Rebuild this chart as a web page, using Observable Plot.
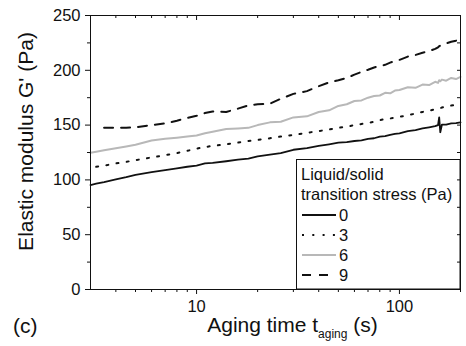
<!DOCTYPE html>
<html>
<head>
<meta charset="utf-8">
<script src="https://cdn.jsdelivr.net/npm/d3@7"></script>
<script src="https://cdn.jsdelivr.net/npm/@observablehq/plot@0.6"></script>
<style>
  html, body { margin: 0; padding: 0; background: #fff; }
  svg { display: block; }
</style>
</head>
<body>
<script>
// Aging time (s)
const times = [3, 3.2, 3.5, 4, 4.5, 5, 6, 7, 8, 9, 10, 11, 12, 14, 16, 18, 20, 23, 26, 30, 35, 40, 45, 50, 55, 60, 65, 70, 75, 80, 85, 90, 95, 100, 110, 120, 130, 140, 150, 155, 157, 159, 162, 170, 180, 190, 200];
// Elastic modulus G' (Pa) per liquid/solid transition stress
const g0 = [95.3, 96.5, 98, 100.5, 102.5, 104.5, 107, 109, 110.5, 112, 113, 115, 115.5, 117, 118.5, 119.5, 121.5, 123, 124.5, 127.5, 129, 131, 132.5, 134, 134.5, 135.5, 136, 137.5, 138, 139.5, 140, 141, 142, 142.5, 144.5, 145.5, 147, 148, 149, 150, 157, 143.5, 150.5, 150.5, 151.5, 151.8, 152.5];
const g3 = [null, 112, 113, 115, 116.5, 118, 120.5, 122.5, 124.5, 126.5, 128.5, 130, 131, 132.5, 134, 135.5, 136.5, 138, 139.5, 141, 143, 144.5, 146, 147.5, 148.5, 150, 151, 152, 153, 154.5, 155.5, 156, 157, 157.5, 159, 160.5, 162, 163, 164.5, 165, 165.5, 165.5, 166, 167, 167.8, 168.5, 169.5];
const g6 = [124.8, 125.7, 127, 128.8, 130.5, 132, 136, 137.5, 138.5, 139.5, 140.5, 142.5, 144, 146.5, 147, 147.5, 150, 152.5, 153, 157, 158, 162, 163.5, 167.5, 169, 172, 172.5, 175, 176.5, 177, 179.5, 179, 181.5, 182, 184.5, 184, 187, 186.5, 189.5, 188.5, 191, 190, 191.5, 190.5, 193, 192, 194];
const g9 = [null, null, 147.5, 147.5, 147.5, 148, 150, 151.5, 154, 156.5, 158.5, 161, 162.5, 162, 165, 168, 169, 169.5, 174, 178.5, 181, 185.5, 189, 191, 193, 196, 198.5, 200.5, 202.5, 204, 205, 207, 208.5, 209.5, 212.5, 214, 216, 217.5, 219.5, 221, 222, 222.5, 223, 224.5, 226, 227, 229];
const seriesNames = ["0", "3", "6", "9"];
const seriesValues = [g0, g3, g6, g9];
const yMajor = [0, 50, 100, 150, 200, 250];
const yMinor = [25, 75, 125, 175, 225];
const xMajor = [10, 100];
const xMinor = [4, 5, 6, 7, 8, 9, 20, 30, 40, 50, 60, 70, 80, 90, 200];

const styles = [
  {stroke: "#111", strokeWidth: 1.8},
  {stroke: "#111", strokeWidth: 2, strokeDasharray: "2,8.3"},
  {stroke: "#b8b8b8", strokeWidth: 2},
  {stroke: "#111", strokeWidth: 2, strokeDasharray: "9,8"}
];

const tables = seriesValues.map((vals, i) =>
  times.map((t, j) => ({t, g: vals[j], s: seriesNames[i]})).filter(d => d.g != null)
);

const W = 466, H = 346, mL = 90, mR = 6, mT = 15, mB = 57;
const fw = W - mL - mR, fh = H - mT - mB;
const font = "'Liberation Sans', Arial, sans-serif";

const chart = Plot.plot({
  width: W, height: H,
  marginLeft: mL, marginRight: mR, marginTop: mT, marginBottom: mB,
  style: {fontFamily: font, background: "#fff", color: "#111"},
  x: {type: "log", domain: [3, 200]},
  y: {domain: [0, 250]},
  marks: [
    ...tables.map((tb, i) => Plot.line(tb, {x: "t", y: "g", ...styles[i]})),
    Plot.axisY({ticks: yMajor, tickSize: 5, tickPadding: 5, fontSize: 16.5, label: null, stroke: "#111"}),
    Plot.axisY({ticks: yMinor, tickSize: 3, text: null, label: null, stroke: "#111"}),
    Plot.axisX({ticks: xMajor, tickSize: 5, tickPadding: 6, fontSize: 16.5, tickFormat: d => String(d), label: null, stroke: "#111"}),
    Plot.axisX({ticks: xMinor, tickSize: 3, text: null, label: null, stroke: "#111"}),
    Plot.tickX(xMajor, {x: d => d, insetBottom: fh - 5, stroke: "#111"}),
    Plot.tickX(xMinor, {x: d => d, insetBottom: fh - 3, stroke: "#111"}),
    Plot.tickY(yMajor.concat(yMinor), {y: d => d, insetLeft: fw - 3, stroke: "#111"}),
    Plot.frame({stroke: "#111", strokeWidth: 1})
  ]
});
document.body.appendChild(chart);

const svg = d3.select(chart);
// Axis titles
svg.append("text")
  .attr("transform", "translate(25,141.5) rotate(-90)")
  .attr("text-anchor", "middle").attr("dominant-baseline", "central")
  .style("font-family", font).style("font-size", "21px").attr("fill", "#111")
  .text("Elastic modulus G' (Pa)");
const xl = svg.append("text")
  .attr("x", 292.5).attr("y", 331.5).attr("text-anchor", "middle")
  .style("font-family", font).style("font-size", "21px").attr("fill", "#111");
xl.append("tspan").text("Aging time t");
xl.append("tspan").attr("dy", 6).style("font-size", "12px").text("aging");
xl.append("tspan").attr("dy", -6).text(" (s)");
svg.append("text").attr("x", 13).attr("y", 333).attr("text-anchor", "start")
  .style("font-family", font).style("font-size", "21px").attr("fill", "#111")
  .text("(c)");

// Legend
const lg = svg.append("g").attr("text-anchor", "start");
lg.append("rect").attr("x", 296.5).attr("y", 159.5).attr("width", 460 - 296.5).attr("height", 289 - 159.5)
  .attr("fill", "none").attr("stroke", "#111").attr("stroke-width", 1);
lg.append("text").attr("x", 301).attr("y", 180).attr("text-anchor", "start").style("font-family", font).style("font-size", "16.5px").attr("fill", "#111").text("Liquid/solid");
lg.append("text").attr("x", 301).attr("y", 200).attr("text-anchor", "start").style("font-family", font).style("font-size", "16.5px").attr("fill", "#111").text("transition stress (Pa)");
seriesNames.forEach((name, i) => {
  const y = 215 + i * 20;
  const st = styles[i];
  lg.append("line").attr("x1", 302).attr("x2", 336).attr("y1", y).attr("y2", y)
    .attr("stroke", st.stroke).attr("stroke-width", st.strokeWidth)
    .attr("stroke-dasharray", st.strokeDasharray || null);
  lg.append("text").attr("x", 339).attr("y", y).attr("dominant-baseline", "central").attr("text-anchor", "start")
    .style("font-family", font).style("font-size", "16.5px").attr("fill", "#111").text(name);
});
</script>
</body>
</html>
